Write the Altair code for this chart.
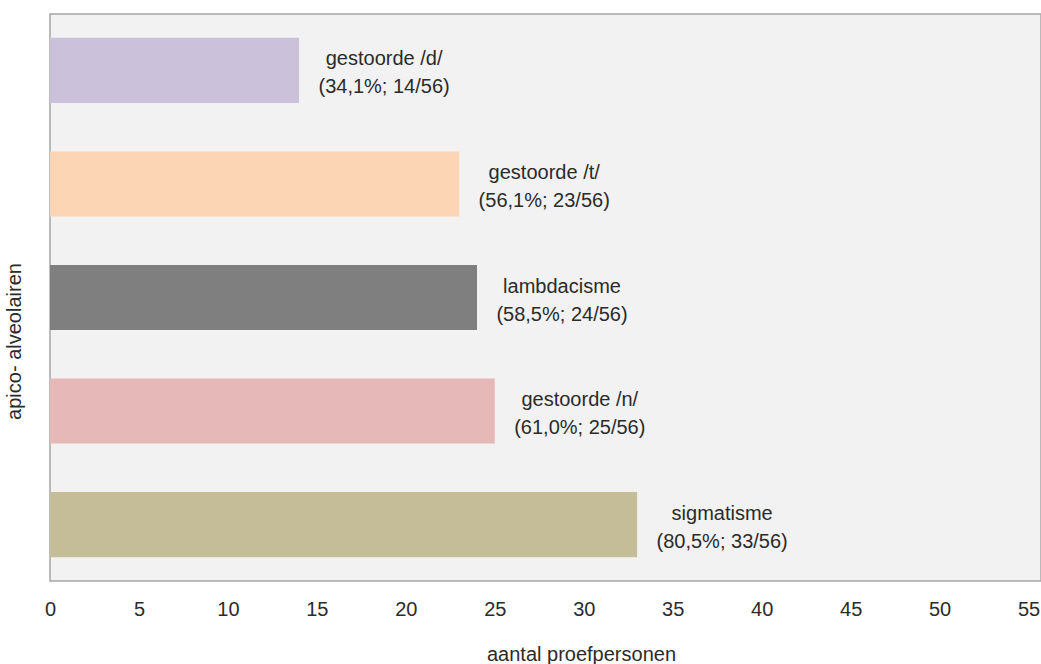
import altair as alt
import pandas as pd

categories = ["gestoorde /d/", "gestoorde /t/", "lambdacisme", "gestoorde /n/", "sigmatisme"]
counts = [14, 23, 24, 25, 33]
percent_labels = ["34,1%", "56,1%", "58,5%", "61,0%", "80,5%"]
total = 56
colors = ["#ccc1da", "#fcd5b5", "#7f7f7f", "#e6b9b8", "#c4bd97"]
tick_values = [0, 5, 10, 15, 20, 25, 30, 35, 40, 45, 50, 55]

df = pd.DataFrame({
    "cat": categories,
    "n": counts,
    "label": [[c, f"({p}; {n}/{total})"] for c, p, n in zip(categories, percent_labels, counts)],
})

FONT = "Liberation Sans"
TXT = "#2b2b2b"
FS = 20

y_enc = alt.Y("cat:N", sort=categories,
              scale=alt.Scale(paddingInner=0.427, paddingOuter=0.21),
              axis=alt.Axis(title="apico- alveolairen", labels=False, ticks=False, domain=False,
                            titleFont=FONT, titleFontSize=FS, titleFontWeight="normal", titleColor=TXT,
                            titleX=-36, titleY=327, titleAngle=270, titleAlign="center",
                            titleBaseline="middle"))
x_enc = alt.X("n:Q", scale=alt.Scale(domain=[0, 55.7], nice=False, zero=True),
              axis=alt.Axis(title="aantal proefpersonen", values=tick_values, grid=False, ticks=False,
                            domain=False, labelFont=FONT, labelFontSize=FS, labelColor=TXT,
                            labelPadding=18, labelFlush=False,
                            titleFont=FONT, titleFontSize=FS, titleFontWeight="normal", titleColor=TXT,
                            titleX=531, titleY=73, titleAlign="center", titleBaseline="middle"))

bars = alt.Chart(df).mark_bar().encode(
    x=x_enc,
    y=y_enc,
    color=alt.Color("cat:N", scale=alt.Scale(domain=categories, range=colors), legend=None),
)

labels = alt.Chart(df).mark_text(font=FONT, fontSize=FS, color=TXT, align="center",
                                 baseline="middle", dx=85, dy=-11, lineHeight=28).encode(
    x=alt.X("n:Q"),
    y=alt.Y("cat:N", sort=categories),
    text="label",
)

chart = (bars + labels).properties(
    width=991, height=567,
    autosize=alt.AutoSizeParams(type="none"),
    padding={"left": 50, "top": 14, "right": 0, "bottom": 83},
    background="white",
).configure_view(fill="#f2f2f2", stroke="#a6a6a6", strokeWidth=1.5)

chart.save("out.html", embed_options={"renderer": "svg", "actions": False})
